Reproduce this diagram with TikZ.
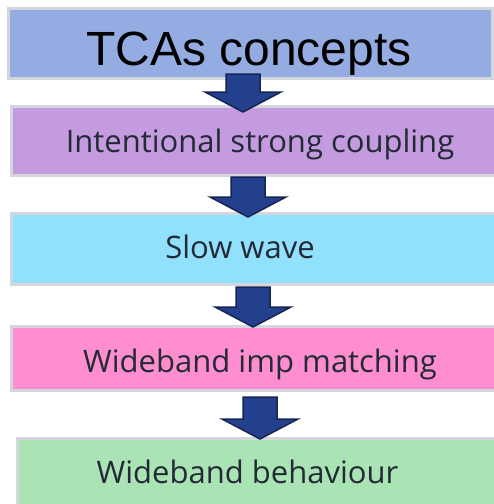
\documentclass[tikz,border=0pt]{standalone}
\usepackage{fontspec}
\setmainfont{Open Sans}
\newfontfamily\titlefont{Liberation Sans}
\usetikzlibrary{calc}

\definecolor{boxline}{RGB}{211,214,220}
\definecolor{conceptsfill}{RGB}{148,172,226}
\definecolor{couplingfill}{RGB}{196,155,222}
\definecolor{slowfill}{RGB}{145,224,252}
\definecolor{matchfill}{RGB}{255,142,208}
\definecolor{behavefill}{RGB}{170,228,180}
\definecolor{arrowfill}{RGB}{35,64,140}
\definecolor{arrowline}{RGB}{22,36,82}
\definecolor{labeltext}{RGB}{34,42,53}

\begin{document}
\begin{tikzpicture}[
                        x=1pt,
                        y=-1pt,
                        box/.style={rectangle,draw=boxline,line width=3pt,inner sep=0pt},
                        label/.style={anchor=base,inner sep=0pt,text=labeltext,font=\fontsize{31}{33}\selectfont},
                        blockarrow/.style={
                            draw=arrowline,fill=arrowfill,line width=1.5pt,line join=miter,
                            to path={let \p1=(\tikztostart), \p2=(\tikztotarget) in
                                (\x2-17pt,\y1) -- (\x2+17pt,\y1) -- (\x2+17pt,\y2+20pt)
                                -- (\x2+38pt,\y2+20pt) -- (\x2,\y2) -- (\x2-38pt,\y2+20pt)
                                -- (\x2-17pt,\y2+20pt) -- cycle}
                        }
                    ]
                    \useasboundingbox (0,0) rectangle (494,504);

                    % boxes
                    \node[box,fill=conceptsfill,minimum width=484pt,minimum height=70pt]   (concepts)  at (250.5,43.5)  {};
                    \node[box,fill=couplingfill,minimum width=498.5pt,minimum height=69pt] (coupling)  at (260.75,141)  {};
                    \node[box,fill=slowfill,minimum width=498.5pt,minimum height=71pt]     (slowwave)  at (260.75,249)  {};
                    \node[box,fill=matchfill,minimum width=498.5pt,minimum height=64pt]    (matching)  at (260.75,358.5){};
                    \node[box,fill=behavefill,minimum width=492.5pt,minimum height=82pt]   (behaviour) at (263.75,479.5){};

                    % arrows
                    \path
                    ([xshift=-7.5pt,yshift=6pt]concepts.south)  edge [blockarrow] ([xshift=-17.75pt,yshift=-7pt]coupling.north)
                    ([xshift=-12.75pt]coupling.south)           edge [blockarrow] ([xshift=-12.75pt,yshift=-5pt]slowwave.north)
                    ([xshift=-7.75pt,yshift=-1pt]slowwave.south) edge [blockarrow] ([xshift=-7.75pt,yshift=-2pt]matching.north)
                    ([xshift=-0.75pt,yshift=-5pt]matching.south) edge [blockarrow] ([xshift=-3.75pt,yshift=-2pt]behaviour.north) ;

                    % texts
                    \node[anchor=base,inner sep=0pt,font=\titlefont\fontsize{48}{50}\selectfont] (concepts-text) at (249,65) {TCAs concepts};
                    \node[label] (coupling-text)  at (260,152)   {Intentional strong coupling};
                    \node[label] (slowwave-text)  at (240,258)   {Slow wave};
                    \node[label] (matching-text)  at (260,372)   {Wideband imp matching};
                    \node[label] (behaviour-text) at (247.5,483) {Wideband behaviour};
                \end{tikzpicture}
\end{document}
